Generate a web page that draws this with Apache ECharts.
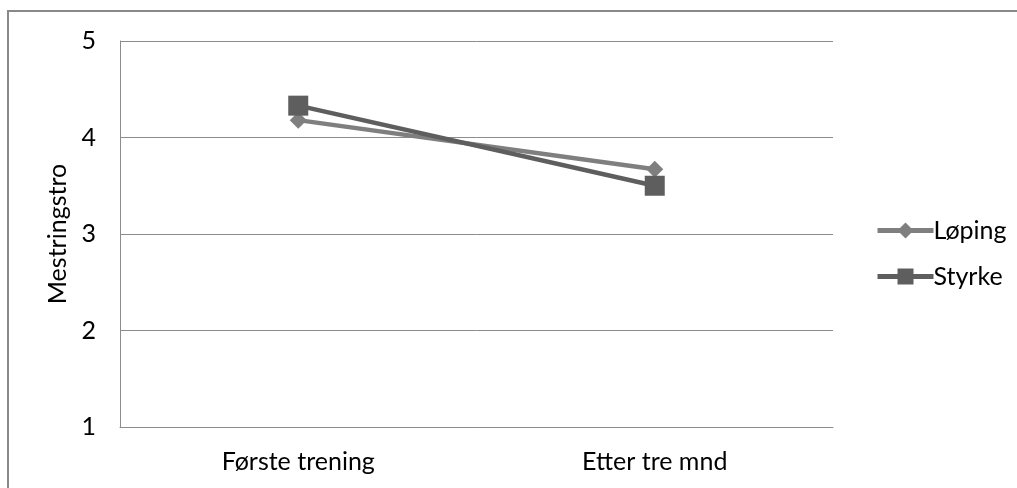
<!DOCTYPE html>
<html>
<head>
<meta charset="utf-8">
<script src="https://cdn.jsdelivr.net/npm/echarts@6/dist/echarts.min.js"></script>
<style>
  html, body { margin: 0; padding: 0; background: #fff; }
  #frame { position: absolute; left: 7px; top: 10px; width: 1030px; height: 500px; border: 2px solid #898989; box-sizing: border-box; }
  #chart { position: absolute; left: 0; top: 0; width: 1017px; height: 488px; }
</style>
</head>
<body>
<div id="frame"></div>
<div id="chart"></div>
<script>
const categories = ['Første trening', 'Etter tre mnd'];
const loping = [4.18, 3.67];
const styrke = [4.33, 3.50];
const yTicks = [1, 2, 3, 4, 5];

const font = 'Lato, "Open Sans", sans-serif';
const fs = 25;
const chart = echarts.init(document.getElementById('chart'));
chart.setOption({
  animation: false,
  grid: { left: 120, right: 184, top: 41, bottom: 61 },
  legend: {
    orient: 'vertical',
    left: 875,
    top: 218,
    padding: 0,
    itemGap: 21,
    itemWidth: 56,
    itemHeight: 20,
    lineStyle: { width: 5 },
    textStyle: { fontFamily: font, fontSize: fs, color: '#000', padding: [0, 0, 0, -5] },
    data: ['Løping', 'Styrke']
  },
  xAxis: {
    type: 'category',
    data: categories,
    boundaryGap: true,
    axisLine: { lineStyle: { color: '#8c8c8c', width: 1 } },
    axisTick: { show: false },
    axisLabel: { fontFamily: font, fontSize: fs, color: '#000', margin: 22 }
  },
  yAxis: {
    type: 'value',
    min: yTicks[0],
    max: yTicks[yTicks.length - 1],
    interval: 1,
    name: 'Mestringstro',
    nameLocation: 'middle',
    nameGap: 46,
    nameTextStyle: { fontFamily: font, fontSize: fs, color: '#000' },
    axisLine: { show: true, lineStyle: { color: '#8c8c8c', width: 1 } },
    axisTick: { show: false },
    axisLabel: { fontFamily: font, fontSize: fs, color: '#000', margin: 24 },
    splitLine: { lineStyle: { color: '#8c8c8c', width: 1 } }
  },
  series: [
    {
      name: 'Løping',
      type: 'line',
      data: loping,
      symbol: 'diamond',
      symbolSize: [17, 17],
      lineStyle: { color: '#7f7f7f', width: 4.5 },
      itemStyle: { color: '#7f7f7f' }
    },
    {
      name: 'Styrke',
      type: 'line',
      data: styrke,
      symbol: 'rect',
      symbolSize: [20, 20],
      lineStyle: { color: '#5e5e5e', width: 4.5 },
      itemStyle: { color: '#5e5e5e' }
    }
  ]
});
</script>
</body>
</html>
